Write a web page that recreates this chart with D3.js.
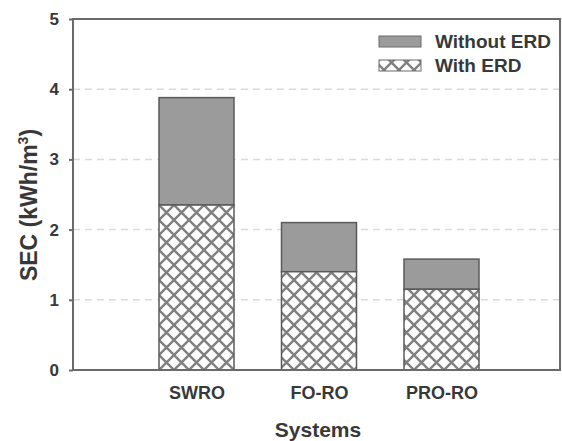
<!DOCTYPE html>
<html>
<head>
<meta charset="utf-8">
<script src="https://cdn.jsdelivr.net/npm/d3@7"></script>
<style>
  html, body { margin: 0; padding: 0; background: #fff; }
  svg { display: block; }
  text { font-family: "Liberation Sans", Arial, sans-serif; font-weight: bold; fill: #383838; }
</style>
</head>
<body>
<svg id="chart" width="562" height="441"></svg>
<script>
// Specific energy consumption per desalination system (kWh/m3)
const systems = ["SWRO", "FO-RO", "PRO-RO"];
const withERD = [2.35, 1.40, 1.15];
const withoutERD = [3.88, 2.10, 1.58];
const yTicks = [0, 1, 2, 3, 4, 5];
const seriesNames = ["Without ERD", "With ERD"];

const svg = d3.select("#chart");
const frame = { left: 73, right: 560, top: 19, bottom: 370 };

// Hatch fill for the "With ERD" segments
const defs = svg.append("defs");
const pat = defs.append("pattern")
  .attr("id", "xhatch")
  .attr("patternUnits", "userSpaceOnUse")
  .attr("width", 15).attr("height", 15)
  .attr("x", 159).attr("y", 370);
pat.append("rect").attr("width", 15).attr("height", 15).attr("fill", "#fff");
pat.append("path")
  .attr("d", "M-1,-1 L16,16 M16,-1 L-1,16 M-8,7 L8,23 M7,-8 L23,8 M-8,8 L8,-8 M7,23 L23,7")
  .attr("stroke", "#808080").attr("stroke-width", 2.4).attr("fill", "none");

const y = d3.scaleLinear().domain([0, 5]).range([frame.bottom, frame.top]);
const x = d3.scalePoint().domain(["_a", ...systems, "_b"]).range([74, 564]);
const barW = 75;

// dashed grid lines
svg.append("g").selectAll("line")
  .data(yTicks.filter(t => t > 0 && t < 5))
  .join("line")
  .attr("x1", frame.left).attr("x2", frame.right)
  .attr("y1", d => y(d)).attr("y2", d => y(d))
  .attr("stroke", "#dadada").attr("stroke-width", 1.5)
  .attr("stroke-dasharray", "7,5");

// stacked bars
const bars = svg.append("g");
systems.forEach((s, i) => {
  const cx = x(s);
  bars.append("rect")
    .attr("x", cx - barW / 2).attr("width", barW)
    .attr("y", y(withoutERD[i])).attr("height", y(withERD[i]) - y(withoutERD[i]))
    .attr("fill", "#9b9b9b").attr("stroke", "#5a5a5a").attr("stroke-width", 1.5);
  bars.append("rect")
    .attr("x", cx - barW / 2).attr("width", barW)
    .attr("y", y(withERD[i])).attr("height", y(0) - y(withERD[i]))
    .attr("fill", "url(#xhatch)").attr("stroke", "#5a5a5a").attr("stroke-width", 1.5);
});

// frame
svg.append("rect")
  .attr("x", frame.left).attr("y", frame.top)
  .attr("width", frame.right - frame.left).attr("height", frame.bottom - frame.top)
  .attr("fill", "none").attr("stroke", "#6a6a6a").attr("stroke-width", 2);

// y axis
const yAxis = svg.append("g")
  .attr("transform", `translate(${frame.left},0)`)
  .call(d3.axisLeft(y).tickValues(yTicks).tickFormat(d3.format("d")).tickSize(4).tickPadding(10));
yAxis.select(".domain").remove();
yAxis.selectAll("line").attr("stroke", "#6a6a6a").attr("stroke-width", 2);
yAxis.selectAll("text").attr("font-size", 17).attr("fill", "#383838")
  .attr("font-family", "Liberation Sans, Arial, sans-serif");

// x axis
const xAxis = svg.append("g")
  .attr("transform", `translate(0,${frame.bottom})`)
  .call(d3.axisBottom(x).tickValues(systems).tickSize(0).tickPadding(16));
xAxis.select(".domain").remove();
xAxis.selectAll("text").attr("font-size", 18).attr("fill", "#383838")
  .attr("font-family", "Liberation Sans, Arial, sans-serif");

// axis titles
svg.append("text")
  .attr("x", 318).attr("y", 437)
  .attr("text-anchor", "middle").attr("font-size", 21)
  .text("Systems");

const yTitle = svg.append("text")
  .attr("transform", "translate(37,205) rotate(-90)")
  .attr("text-anchor", "middle").attr("font-size", 23);
yTitle.append("tspan").text("SEC (kWh/m");
yTitle.append("tspan").attr("dy", -9).attr("font-size", 14).text("3");
yTitle.append("tspan").attr("dy", 9).text(")");

// legend
const legend = svg.append("g");
const fills = ["#9b9b9b", "url(#xhatch)"];
seriesNames.forEach((n, i) => {
  const ly = 36 + i * 24;
  legend.append("rect")
    .attr("x", 379).attr("y", ly).attr("width", 42).attr("height", 11)
    .attr("fill", fills[i]).attr("stroke", "#6a6a6a").attr("stroke-width", 1);
  legend.append("text")
    .attr("x", 435).attr("y", ly + 12)
    .attr("font-size", 19).text(n);
});
</script>
</body>
</html>
